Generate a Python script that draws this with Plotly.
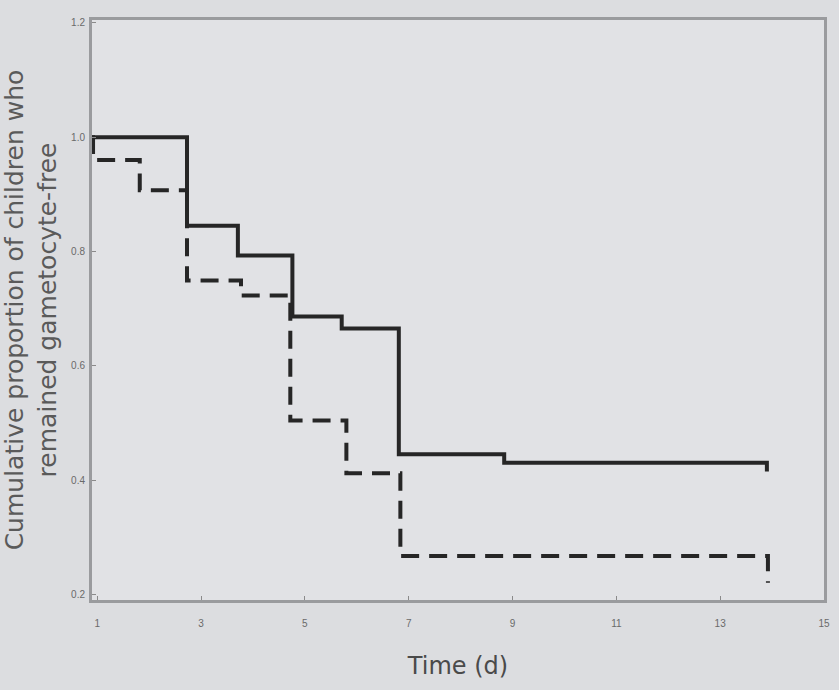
import plotly.graph_objects as go

# Kaplan-Meier step data (time in days, cumulative proportion gametocyte-free)
solid_t = [0.9, 2.73, 3.71, 4.76, 5.71, 6.81, 8.84, 13.9, 13.9]
solid_p = [1.0, 0.845, 0.793, 0.686, 0.665, 0.445, 0.43, 0.43, 0.415]

dashed_t = [0.9, 0.92, 1.82, 2.73, 3.77, 4.72, 5.80, 6.84, 13.92, 13.92]
dashed_p = [1.0, 0.96, 0.907, 0.749, 0.723, 0.504, 0.412, 0.267, 0.267, 0.22]

x_ticks = [1, 3, 5, 7, 9, 11, 13, 15]
y_ticks = [0.2, 0.4, 0.6, 0.8, 1.0, 1.2]
y_tick_labels = ["0.2", "0.4", "0.6", "0.8", "1.0", "1.2"]

fig = go.Figure()
fig.add_trace(go.Scatter(x=solid_t, y=solid_p, mode="lines", line_shape="hv",
                         line=dict(color="#262626", width=4), showlegend=False))
fig.add_trace(go.Scatter(x=dashed_t, y=dashed_p, mode="lines", line_shape="hv",
                         line=dict(color="#262626", width=4, dash="18px,10px"),
                         showlegend=False))

axis_common = dict(showgrid=False, zeroline=False, showline=True, mirror=True,
                   linecolor="#9a9b9e", linewidth=3, ticks="inside", ticklen=4,
                   tickcolor="#8a8a8a", tickfont=dict(size=10, color="#6a6a6a",
                                                       family="Liberation Sans"))

fig.update_xaxes(range=[0.9, 15.0], tickvals=x_ticks, ticklabelstandoff=12,
                 title=dict(text="Time (d)", font=dict(size=24, color="#4a4a4a",
                                                       family="DejaVu Sans"),
                            standoff=30),
                 **axis_common)
fig.update_yaxes(range=[0.19, 1.205], tickvals=y_ticks, ticktext=y_tick_labels,
                 ticklabelstandoff=2,
                 title=dict(text="Cumulative proportion of children who<br>remained gametocyte-free",
                            font=dict(size=25, color="#5a5a5a", family="DejaVu Sans"),
                            standoff=8),
                 **axis_common)

fig.update_layout(width=839, height=690,
                  margin=dict(l=92, r=9, t=20, b=90),
                  paper_bgcolor="#dcdde0", plot_bgcolor="#e1e2e5")

fig.write_html("out.html")
